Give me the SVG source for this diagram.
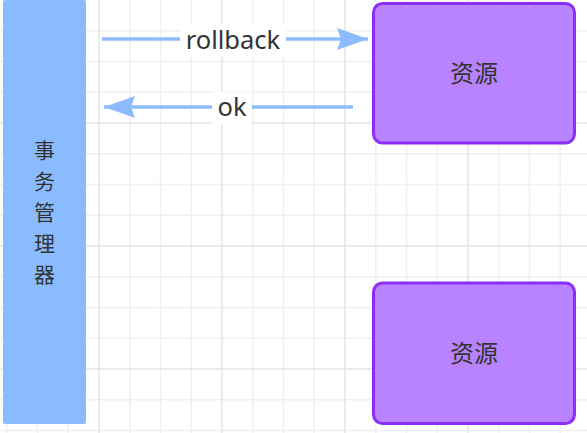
<svg xmlns="http://www.w3.org/2000/svg" width="587" height="433" viewBox="0 0 587 433">
<defs>
<style>
.minor{stroke:#f0f0f0;stroke-width:1.5}
.major{stroke:#e4e4e4;stroke-width:1.5}
.res{fill:#b983ff;stroke:#8a2ff5;stroke-width:3}
.cn{font-family:"Noto Sans CJK SC",sans-serif;fill:#333;text-anchor:middle}
.lbl{font-family:"Noto Sans","Noto Sans CJK SC",sans-serif;font-size:25.5px;fill:#333;text-anchor:middle}
.edge{stroke:#8cbcff;stroke-width:3.5;fill:none}
</style>
<marker id="ah" markerUnits="userSpaceOnUse" markerWidth="32" markerHeight="24" refX="31" refY="11" orient="auto">
<polygon points="0,0 31,11 0,22 4,11" fill="#8cbcff"/>
</marker>
</defs>
<rect width="587" height="433" fill="#ffffff"/>
<g id="grid">
<g class="minor">
<line x1="6.75" y1="0" x2="6.75" y2="433"/><line x1="37.5" y1="0" x2="37.5" y2="433"/><line x1="68.25" y1="0" x2="68.25" y2="433"/>
<line x1="129.75" y1="0" x2="129.75" y2="433"/><line x1="160.5" y1="0" x2="160.5" y2="433"/><line x1="191.25" y1="0" x2="191.25" y2="433"/>
<line x1="252.75" y1="0" x2="252.75" y2="433"/><line x1="283.5" y1="0" x2="283.5" y2="433"/><line x1="314.25" y1="0" x2="314.25" y2="433"/>
<line x1="375.75" y1="0" x2="375.75" y2="433"/><line x1="406.5" y1="0" x2="406.5" y2="433"/><line x1="437.25" y1="0" x2="437.25" y2="433"/>
<line x1="498.75" y1="0" x2="498.75" y2="433"/><line x1="529.5" y1="0" x2="529.5" y2="433"/><line x1="560.25" y1="0" x2="560.25" y2="433"/>
<line x1="0" y1="30.75" x2="587" y2="30.75"/><line x1="0" y1="61.5" x2="587" y2="61.5"/><line x1="0" y1="92.25" x2="587" y2="92.25"/>
<line x1="0" y1="153.75" x2="587" y2="153.75"/><line x1="0" y1="184.5" x2="587" y2="184.5"/><line x1="0" y1="215.25" x2="587" y2="215.25"/>
<line x1="0" y1="276.75" x2="587" y2="276.75"/><line x1="0" y1="307.5" x2="587" y2="307.5"/><line x1="0" y1="338.25" x2="587" y2="338.25"/>
<line x1="0" y1="399.75" x2="587" y2="399.75"/><line x1="0" y1="430.5" x2="587" y2="430.5"/>
</g>
<g class="major">
<line x1="99" y1="0" x2="99" y2="433"/><line x1="222" y1="0" x2="222" y2="433"/><line x1="345" y1="0" x2="345" y2="433"/><line x1="468" y1="0" x2="468" y2="433"/>
<line x1="0" y1="123" x2="587" y2="123"/><line x1="0" y1="246" x2="587" y2="246"/><line x1="0" y1="369" x2="587" y2="369"/>
</g>
</g>
<g id="tm">
<rect x="3" y="0" width="83" height="424" rx="2" fill="#8bbbff"/>
<text class="cn" font-size="21" x="44.5"><tspan x="44.5" y="158">事</tspan><tspan x="44.5" y="189">务</tspan><tspan x="44.5" y="220">管</tspan><tspan x="44.5" y="251">理</tspan><tspan x="44.5" y="282">器</tspan></text>
</g>
<g id="res1">
<rect class="res" x="373.5" y="3.5" width="201" height="139.5" rx="9"/>
<text class="cn" font-size="24" x="474" y="82">资源</text>
</g>
<g id="res2">
<rect class="res" x="373.5" y="283" width="201" height="140.5" rx="9"/>
<text class="cn" font-size="24" x="474" y="362">资源</text>
</g>
<g id="connectors">
<g id="e-rollback">
<line class="edge" x1="102" y1="39" x2="368" y2="39" marker-end="url(#ah)"/>
<rect x="180" y="24" width="106" height="32" fill="#ffffff"/>
<text class="lbl" x="233" y="49">rollback</text>
</g>
<g id="e-ok">
<line class="edge" x1="353" y1="107" x2="104" y2="107" marker-end="url(#ah)"/>
<rect x="212" y="92" width="40" height="32" fill="#ffffff"/>
<text class="lbl" x="232" y="116">ok</text>
</g>
</g>
</svg>
